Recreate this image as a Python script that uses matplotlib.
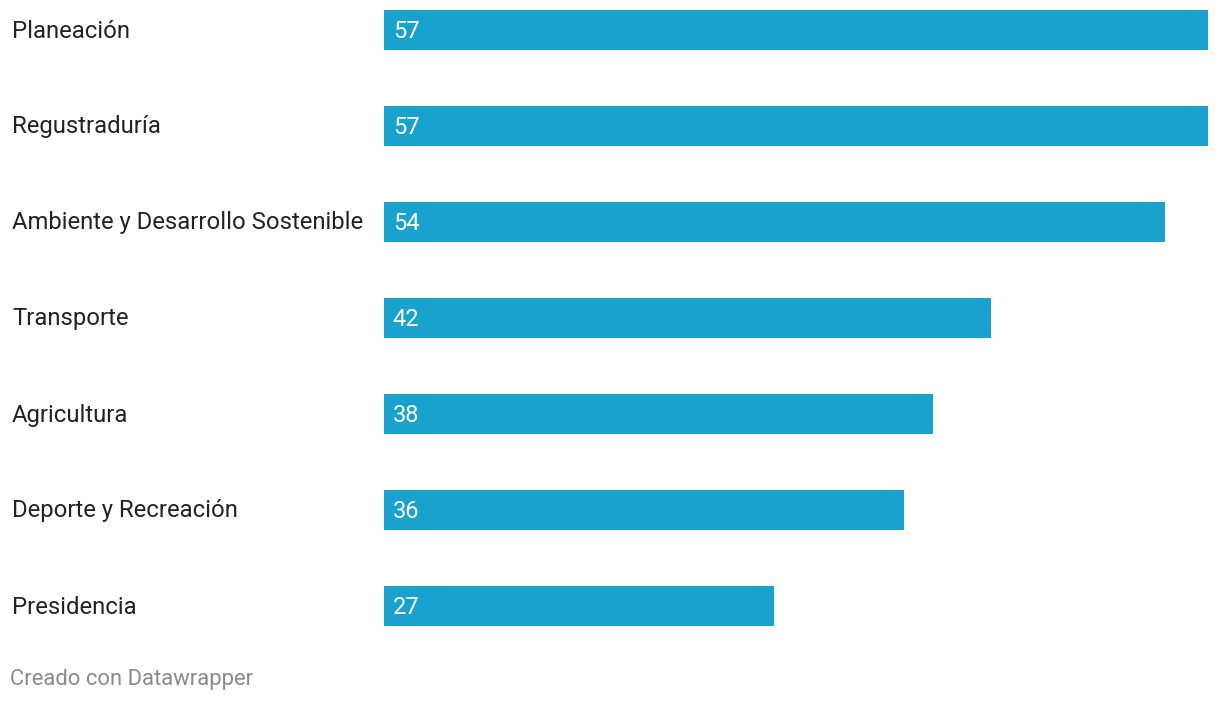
import matplotlib.pyplot as plt

categorias = ['Planeación', 'Regustraduría', 'Ambiente y Desarrollo Sostenible',
              'Transporte', 'Agricultura', 'Deporte y Recreación', 'Presidencia']
valores = [57, 57, 54, 42, 38, 36, 27]

plt.rcParams['font.family'] = ['Roboto', 'DejaVu Sans']

fig = plt.figure(figsize=(12.2, 7.02), dpi=100)
W, H = 1220, 702
# axes: x from 384 to 1208 px, y from 0 to 654 px
ax = fig.add_axes([384 / W, 1 - 654 / H, (1208 - 384) / W, 654 / H])

pos = list(range(len(categorias)))
ax.barh(pos, valores, height=40 / 96, color='#1aa2cf')
ax.set_xlim(0, 57)
ax.set_ylim(624 / 96, -30 / 96)
ax.axis('off')

for i, (cat, v) in enumerate(zip(categorias, valores)):
    ax.text(0.6, i + 1 / 96, str(v), color='white', fontsize=17, va='center', ha='left')
    fig.text(12 / W, 1 - (31 + 96 * i) / H, cat, color='#222222', fontsize=17.2,
             va='center', ha='left')

fig.text(10 / W, 1 - 679 / H, 'Creado con Datawrapper', color='#8a8a8a',
         fontsize=15.8, va='center', ha='left')

fig.savefig('out.png', dpi=100)
